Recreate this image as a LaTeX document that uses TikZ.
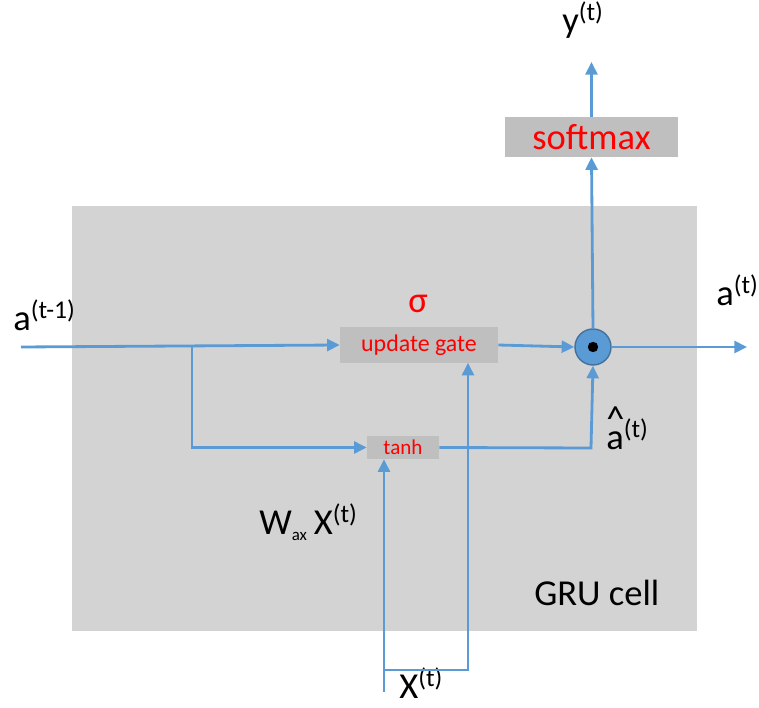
\documentclass[tikz,border=0pt]{standalone}
\usepackage{fontspec}
\setmainfont{Carlito}
\usetikzlibrary{arrows.meta}
\definecolor{cellgray}{HTML}{D3D3D3}
\definecolor{boxgray}{HTML}{BFBFBF}
\definecolor{lineblue}{HTML}{5B9BD5}
\definecolor{ringblue}{HTML}{41719C}
\begin{document}
\begin{tikzpicture}[x=0.025cm, y=-0.025cm,
        flow/.style={draw=lineblue, line width=2pt, -{Triangle[length=9pt, width=8.5pt]}},
        gatebox/.style={fill=boxgray, text=red, inner sep=0pt},
        biglabel/.style={font=\fontsize{26}{30}\selectfont, inner sep=0pt}]
    \useasboundingbox (0,0) rectangle (759,708);
    \fill[cellgray] (72,206) rectangle (697,631);
    % boxes
    \node[gatebox, minimum width=3.95cm, minimum height=0.875cm, font=\fontsize{17}{20}\selectfont] (update) at (419,345) {update gate};
    \node[gatebox, minimum width=1.8cm, minimum height=0.575cm, font=\fontsize{15}{18}\selectfont] (tanh) at (403,447.5) {tanh};
    \node[gatebox, minimum width=4.325cm, minimum height=1cm, font=\fontsize{26}{30}\selectfont] (softmax) at (591.5,137) {softmax};
    \node[circle, fill=lineblue, draw=ringblue, line width=1pt, minimum size=0.9cm, inner sep=0pt] (mult) at (593,347) {};
    \fill[black] (mult) circle (0.13cm);
    % labels
    \node[biglabel, anchor=base west] (aprev) at (13,331) {a\textsuperscript{(t-1)}};
    \node[biglabel, anchor=base, text=red] (sigma) at (418,313) {σ};
    \node[biglabel, anchor=base west] (anext) at (716,306) {a\textsuperscript{(t)}};
    \node[biglabel, anchor=base west] (yout) at (562,33) {y\textsuperscript{(t)}};
    \node[biglabel, anchor=base west] (ahat) at (606,450) {\makebox[0pt][l]{\raisebox{0.5em}{\^{}}}a\textsuperscript{(t)}};
    \node[biglabel, anchor=base west] (wax) at (259,535) {W\textsubscript{\fontsize{12}{12}\selectfont ax}\,X\textsuperscript{(t)}};
    \node[biglabel, anchor=base west] (xlabel) at (399,699) {X\textsuperscript{(t)}};
    \node[biglabel, anchor=base west] (cell) at (534,606) {GRU cell};
    % wires
    \coordinate (ain) at (21,347);
    \coordinate (split) at (192,347);
    \coordinate (aout) at (747,347);
    \coordinate (ytip) at (591.5,62);
    \coordinate (xin) at (384,692);
    \coordinate (xturn) at (384,670);
    \coordinate (gin) at (468,670);
    \coordinate (hturn) at (591,448);
    \draw[flow] (ain) -- (update.west);
    \draw[flow] (split) |- (tanh.west);
    \draw[flow] (update.east) -- (mult.west);
    \draw[flow] (tanh.east) -- (hturn) -- (mult.south);
    \draw[flow] (mult.east) -- (aout);
    \draw[flow] (mult.north) -- (softmax.south);
    \draw[flow] (softmax.north) -- (ytip);
    \draw[flow] (xin) -- (xin |- tanh.south);
    \draw[flow] (xturn) -- (gin) -- (gin |- update.south);
\end{tikzpicture}
\end{document}
